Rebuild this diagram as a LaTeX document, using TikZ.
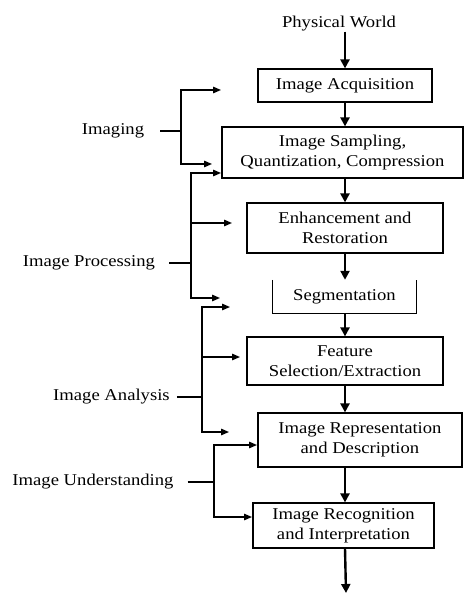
\documentclass[tikz,border=0pt]{standalone}
\usepackage{fontspec}
\setmainfont[FakeStretch=1.13]{Liberation Serif}
\usetikzlibrary{arrows.meta}
\begin{document}
\begin{tikzpicture}
    [x=1pt,y=-1pt,font=\fontsize{16.5}{20}\selectfont,
     stage/.style={draw,line width=1.2pt,align=center,inner sep=0pt},
     field/.style={inner sep=0pt},
     flow/.style={line width=2.4pt,-{Triangle[length=9pt,width=9pt]}},
     branch/.style={line width=1.4pt,-{Triangle[length=8pt,width=6.5pt]}},
     spine/.style={line width=1.4pt}]

    \useasboundingbox (0,0) rectangle (464,593);

    % input:
    \node (phys) at (339,24) [field] {Physical World};

    % processing chain:
    \node (acq) at (345,85.5) [stage,minimum width=174pt,minimum height=33pt] {Image Acquisition};
    \node (samp) at (342.5,152.5) [stage,minimum width=241pt,minimum height=51pt] {Image Sampling,\\Quantization, Compression};
    \node (enh) at (345,228) [stage,minimum width=196pt,minimum height=50pt] {Enhancement and\\Restoration};
    \node (seg) at (344.5,296.5) [field,minimum width=143pt,minimum height=33pt] {Segmentation};
    \draw [line width=1.2pt] (seg.north west) -- (seg.south west) -- (seg.south east) -- (seg.north east);
    \node (feat) at (345,361) [stage,minimum width=196pt,minimum height=48pt] {Feature\\Selection/Extraction};
    \node (rep) at (360,440) [stage,minimum width=204pt,minimum height=54pt] {Image Representation\\and Description};
    \node (recog) at (343.5,525.5) [stage,minimum width=181pt,minimum height=45pt] {Image Recognition\\and Interpretation};
    \coordinate (out) at (346,593);

    % connect chain:
    \draw [flow] (phys.south -| acq.north) -- (acq.north);
    \draw [flow] (acq.south) -- (acq.south |- samp.north);
    \draw [flow] (samp.south -| acq.south) -- (enh.north);
    \draw [flow] (enh.south) -- (seg.north -| enh.south);
    \draw [flow] (seg.south -| enh.south) -- (feat.north);
    \draw [flow] (feat.south) -- (feat.south |- rep.north);
    \draw [flow] (rep.south -| feat.south) -- (recog.north -| feat.south);
    \draw [flow] (recog.south -| feat.south) -- (out);

    % imaging:
    \node (imaging) at (113,131) [field] {Imaging};
    \coordinate (imgmid) at (181,131);
    \coordinate (imgtop) at (221,90);
    \coordinate (imgbot) at (212,164);
    \draw [spine,shorten <=16pt] (imaging) -- (imgmid);
    \draw [branch] (imgmid) |- (imgtop);
    \draw [branch] (imgmid) |- (imgbot);

    % image processing:
    \node (proc) at (89,263) [field] {Image Processing};
    \coordinate (procmid) at (191,263);
    \coordinate (proctop) at (221,173);
    \coordinate (procmidarr) at (232,223);
    \coordinate (procbot) at (220,298);
    \draw [spine,shorten <=14pt] (proc) -- (procmid);
    \draw [branch] (procmid) |- (proctop);
    \draw [branch] (procmid) |- (procmidarr);
    \draw [branch] (procmid) |- (procbot);

    % image analysis:
    \node (anal) at (111.5,397) [field] {Image Analysis};
    \coordinate (analmid) at (202,397);
    \coordinate (analtop) at (230,307);
    \coordinate (analmidarr) at (240,357);
    \coordinate (analbot) at (229,432);
    \draw [spine,shorten <=7pt] (anal) -- (analmid);
    \draw [branch] (analmid) |- (analtop);
    \draw [branch] (analmid) |- (analmidarr);
    \draw [branch] (analmid) |- (analbot);

    % image understanding:
    \node (und) at (93,482) [field] {Image Understanding};
    \coordinate (undmid) at (214,482);
    \coordinate (undtop) at (257,445);
    \coordinate (undbot) at (252,517);
    \draw [spine,shorten <=14pt] (und) -- (undmid);
    \draw [branch] (undmid) |- (undtop);
    \draw [branch] (undmid) |- (undbot);

  \end{tikzpicture}
\end{document}
